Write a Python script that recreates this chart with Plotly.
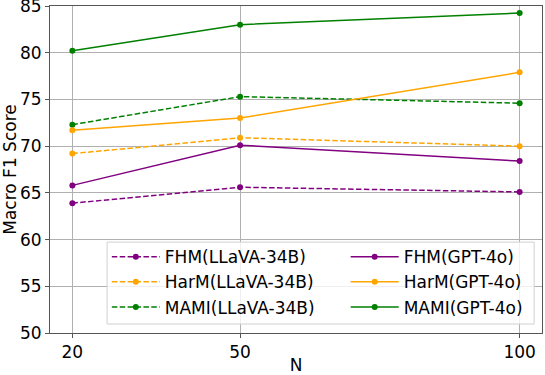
import plotly.graph_objects as go

# sample sizes on the x axis
n_values = [20, 50, 100]

# Macro F1 scores
fhm_llava = [63.9, 65.6, 65.1]
fhm_gpt = [65.8, 70.1, 68.4]
harm_llava = [69.2, 70.9, 70.0]
harm_gpt = [71.7, 73.0, 77.9]
mami_llava = [72.3, 75.3, 74.6]
mami_gpt = [80.2, 83.0, 84.25]

purple = '#800080'
orange = '#FFA500'
green = '#008000'
dashed = '5.5px,2.4px'

# (name, values, colour, dash, legend column)
series = [
    ('FHM(LLaVA-34B)', fhm_llava, purple, dashed, 'legend'),
    ('HarM(LLaVA-34B)', harm_llava, orange, dashed, 'legend'),
    ('MAMI(LLaVA-34B)', mami_llava, green, dashed, 'legend'),
    ('FHM(GPT-4o)', fhm_gpt, purple, 'solid', 'legend2'),
    ('HarM(GPT-4o)', harm_gpt, orange, 'solid', 'legend2'),
    ('MAMI(GPT-4o)', mami_gpt, green, 'solid', 'legend2'),
]

fig = go.Figure()
for name, vals, color, dash, leg in series:
    fig.add_trace(go.Scatter(x=n_values, y=vals, name=name, legend=leg,
                             mode='lines+markers',
                             line={'color': color, 'width': 1.5, 'dash': dash},
                             marker={'color': color, 'size': 6}))

font = dict(family='DejaVu Sans', size=17, color='black')

axis_style = dict(showgrid=True, gridcolor='#b0b0b0', gridwidth=0.8,
                  showline=True, linecolor='#555', linewidth=1, mirror=True,
                  ticks='outside', ticklen=4, tickcolor='#555', zeroline=False,
                  tickfont=font, ticklabeloverflow='allow', automargin=False)

fig.update_xaxes(range=[16, 104], tickvals=n_values, ticktext=['20', '50', '100'],
                 title=dict(text='N', font=font, standoff=9), **axis_style)
fig.update_yaxes(range=[50, 85], dtick=5,
                 title=dict(text='Macro F1 Score', font=font, standoff=4), **axis_style)

# frame behind the two legend columns
fig.add_shape(type='rect', xref='paper', yref='paper',
              x0=0.116, x1=0.984, y0=0.0275, y1=0.278, layer='above',
              fillcolor='rgba(255,255,255,0.8)',
              line=dict(color='#d0d0d0', width=1))

leg_common = dict(bgcolor='rgba(0,0,0,0)', borderwidth=0, font=font,
                  itemwidth=48, yanchor='top', y=0.287, xanchor='left',
                  tracegroupgap=0)

fig.update_layout(
    width=545, height=375,
    margin=dict(l=50, r=3, t=6, b=42),
    plot_bgcolor='white', paper_bgcolor='white',
    font=font,
    legend=dict(x=0.1155, **leg_common),
    legend2=dict(x=0.601, **leg_common),
)

# drop the browser's default body margin so the figure sits at the page corner
fig.write_html("out.html", config={'displayModeBar': False},
               post_script="document.body.style.margin = '0';")
